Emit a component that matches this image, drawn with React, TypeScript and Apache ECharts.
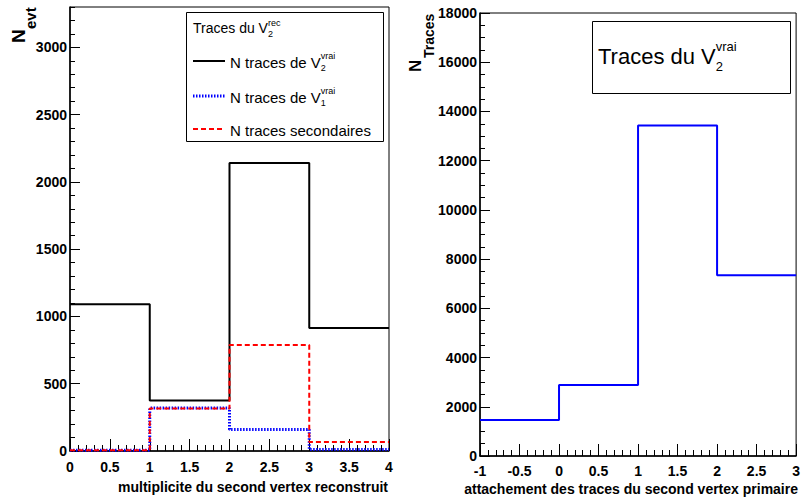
import React, { useEffect, useRef } from "react";
import * as echarts from "echarts";

// ---- Data ----
const LEFT_BIN_EDGES = [0, 1, 2, 3, 4];
const N_TRACES_V2_VRAI = [1090, 375, 2140, 915];
const N_TRACES_V1_VRAI = [5, 320, 160, 12];
const N_TRACES_SECONDAIRES = [5, 315, 787, 67];

const RIGHT_BIN_EDGES = [-1, 0, 1, 2, 3];
const TRACES_V2_VRAI = [1460, 2880, 13430, 7340];

const LEFT_X_TITLE = "multiplicite du second vertex reconstruit";
const RIGHT_X_TITLE = "attachement des traces du second vertex primaire";
const LEGEND_TITLE = "Traces du V";
const LEGEND_ENTRIES = ["N traces de V", "N traces de V", "N traces secondaires"];
const LEGEND_SUBS = ["2", "1", ""];
const LEGEND_SUPS = ["vrai", "vrai", ""];

const FONT = "'Liberation Sans', Arial, Helvetica, sans-serif";

function histPoints(edges: number[], values: number[]) {
  const pts: number[][] = [];
  values.forEach((v, i) => {
    pts.push([edges[i], v]);
    pts.push([edges[i + 1], v]);
  });
  return pts;
}

function txt(x: number, y: number, text: string, size: number, extra: any = {}) {
  return {
    type: "text",
    x,
    y,
    z: 110,
    rotation: extra.rotation || 0,
    style: {
      text,
      fontSize: size,
      fontFamily: FONT,
      fontWeight: extra.weight || "normal",
      fill: "#000",
      align: extra.align || "left",
      verticalAlign: "middle",
    },
  };
}

// main text followed by stacked subscript / superscript
function scripted(
  x: number, y: number, main: string, sub: string, sup: string,
  mainSize: number, scriptSize: number, supOff: number, subOff: number
) {
  const hs = scriptSize;
  const L = 2 * (supOff + hs / 2);
  const hb = Math.max(1, 2 * (L / 2 - subOff));
  const base = { fontFamily: FONT, fill: "#000", color: "#000" };
  return {
    type: "text",
    x,
    y,
    z: 110,
    style: {
      text: `{m|${main}}{b|${sub}}{s|${sup}}`,
      align: "left",
      verticalAlign: "middle",
      fontFamily: FONT,
      rich: {
        m: { ...base, fontSize: mainSize, lineHeight: L, verticalAlign: "middle" },
        b: { ...base, fontSize: scriptSize, lineHeight: hb, verticalAlign: "bottom", width: 0 },
        s: { ...base, fontSize: scriptSize, lineHeight: hs, verticalAlign: "top" },
      },
    },
  };
}

export default function App() {
  const ref = useRef<HTMLDivElement>(null);

  useEffect(() => {
    if (!ref.current) return;
    const chart = echarts.init(ref.current, null, { renderer: "svg" });

    const tickLabel = {
      color: "#000",
      fontFamily: FONT,
      fontWeight: "bold",
      fontSize: 14,
      formatter: (v: number) => String(v),
    };

    const graphics: any[] = [];
    // Left legend
    graphics.push({
      type: "rect",
      z: 100,
      shape: { x: 186.5, y: 12.5, width: 197, height: 129 },
      style: { fill: "#fff", stroke: "#000", lineWidth: 1 },
    });
    graphics.push(scripted(193, 28, LEGEND_TITLE, "2", "rec", 14, 9, 5.5, 7));

    const entryY = [62, 97, 130];
    const entryStyles = [
      { stroke: "#000", lineWidth: 2 },
      { stroke: "#0000ff", lineWidth: 3, lineDash: [1.5, 1.5] },
      { stroke: "#ff0000", lineWidth: 2, lineDash: [5, 3] },
    ];
    LEGEND_ENTRIES.forEach((label, i) => {
      const c = entryY[i];
      graphics.push({
        type: "line",
        z: 110,
        shape: { x1: 193, y1: c - 1, x2: 225, y2: c - 1 },
        style: entryStyles[i],
      });
      if (LEGEND_SUBS[i]) {
        graphics.push(scripted(230, c, label, LEGEND_SUBS[i], LEGEND_SUPS[i], 15, 9, 6, 6));
      } else {
        graphics.push(txt(230, c, label, 15));
      }
    });

    // Right legend
    graphics.push({
      type: "rect",
      z: 100,
      shape: { x: 592.5, y: 21.5, width: 198, height: 72 },
      style: { fill: "#fff", stroke: "#000", lineWidth: 1 },
    });
    graphics.push(scripted(598, 56, LEGEND_TITLE, "2", "vrai", 22, 13, 10, 13));

    // Axis titles
    graphics.push(txt(388, 487, LEFT_X_TITLE, 14, { weight: "bold", align: "right" }));
    graphics.push(txt(798, 489, RIGHT_X_TITLE, 14, { weight: "bold", align: "right" }));
    graphics.push(txt(18.5, 43, "N", 19, { weight: "bold", rotation: Math.PI / 2 }));
    graphics.push(txt(30, 29, "evt", 15, { weight: "bold", rotation: Math.PI / 2 }));
    graphics.push(txt(415, 72, "N", 17, { weight: "bold", rotation: Math.PI / 2 }));
    graphics.push(txt(428.5, 58, "Traces", 14, { weight: "bold", rotation: Math.PI / 2 }));

    const axisLine = { show: true, onZero: false, lineStyle: { color: "#000", width: 1.5 } };

    chart.setOption({
      animation: false,
      backgroundColor: "#fff",
      grid: [
        { left: 70, top: 7, width: 319, height: 444, show: true, borderColor: "#000", borderWidth: 1, backgroundColor: "transparent" },
        { left: 480, top: 13, width: 319, height: 443, show: true, borderColor: "#000", borderWidth: 1, backgroundColor: "transparent" },
      ],
      xAxis: [
        {
          type: "value", gridIndex: 0, min: 0, max: 4, interval: 0.5,
          axisLine,
          axisTick: { show: true, inside: true, length: 12, lineStyle: { color: "#000", width: 1 } },
          minorTick: { show: true, splitNumber: 5, length: 6, lineStyle: { color: "#000", width: 1 } },
          axisLabel: { ...tickLabel, margin: 9 },
          splitLine: { show: false },
        },
        {
          type: "value", gridIndex: 1, min: -1, max: 3, interval: 0.5,
          axisLine,
          axisTick: { show: true, inside: true, length: 12, lineStyle: { color: "#000", width: 1 } },
          minorTick: { show: true, splitNumber: 5, length: 6, lineStyle: { color: "#000", width: 1 } },
          axisLabel: { ...tickLabel, margin: 8 },
          splitLine: { show: false },
        },
      ],
      yAxis: [
        {
          type: "value", gridIndex: 0, min: 0, max: 3300, interval: 500, position: "left",
          axisLine,
          axisTick: { show: true, inside: true, length: 10, lineStyle: { color: "#000", width: 1 } },
          axisLabel: { ...tickLabel, margin: 3, showMaxLabel: false },
          splitLine: { show: false },
        },
        {
          type: "value", gridIndex: 0, min: 0, max: 3300, interval: 100, position: "left", offset: 0,
          axisLine: { show: false },
          axisTick: { show: true, inside: true, length: 5, lineStyle: { color: "#000", width: 1 } },
          axisLabel: { show: false },
          splitLine: { show: false },
        },
        {
          type: "value", gridIndex: 1, min: 0, max: 18000, interval: 2000, position: "left",
          axisLine,
          axisTick: { show: true, inside: true, length: 10, lineStyle: { color: "#000", width: 1 } },
          minorTick: { show: true, splitNumber: 4, length: 5, lineStyle: { color: "#000", width: 1 } },
          axisLabel: { ...tickLabel, margin: 3 },
          splitLine: { show: false },
        },
      ],
      series: [
        {
          name: "N traces de V2 vrai", type: "line", xAxisIndex: 0, yAxisIndex: 0,
          data: histPoints(LEFT_BIN_EDGES, N_TRACES_V2_VRAI), showSymbol: false, symbol: "none",
          lineStyle: { color: "#000", width: 2 }, z: 3,
        },
        {
          name: "N traces de V1 vrai", type: "line", xAxisIndex: 0, yAxisIndex: 0,
          data: histPoints(LEFT_BIN_EDGES, N_TRACES_V1_VRAI), showSymbol: false, symbol: "none",
          lineStyle: { color: "#0000ff", width: 3, type: [1.5, 1.5] }, z: 4,
        },
        {
          name: "N traces secondaires", type: "line", xAxisIndex: 0, yAxisIndex: 0,
          data: histPoints(LEFT_BIN_EDGES, N_TRACES_SECONDAIRES), showSymbol: false, symbol: "none",
          lineStyle: { color: "#ff0000", width: 2, type: [5, 3] }, z: 5,
        },
        {
          name: "Traces du V2 vrai", type: "line", xAxisIndex: 1, yAxisIndex: 2,
          data: histPoints(RIGHT_BIN_EDGES, TRACES_V2_VRAI), showSymbol: false, symbol: "none",
          lineStyle: { color: "#0000ff", width: 2 }, z: 3,
        },
      ],
      graphic: graphics,
    });

    return () => chart.dispose();
  }, []);

  return (
    <div
      ref={ref}
      style={{ position: "fixed", left: 0, top: 0, width: 803, height: 499, background: "#fff" }}
    />
  );
}
